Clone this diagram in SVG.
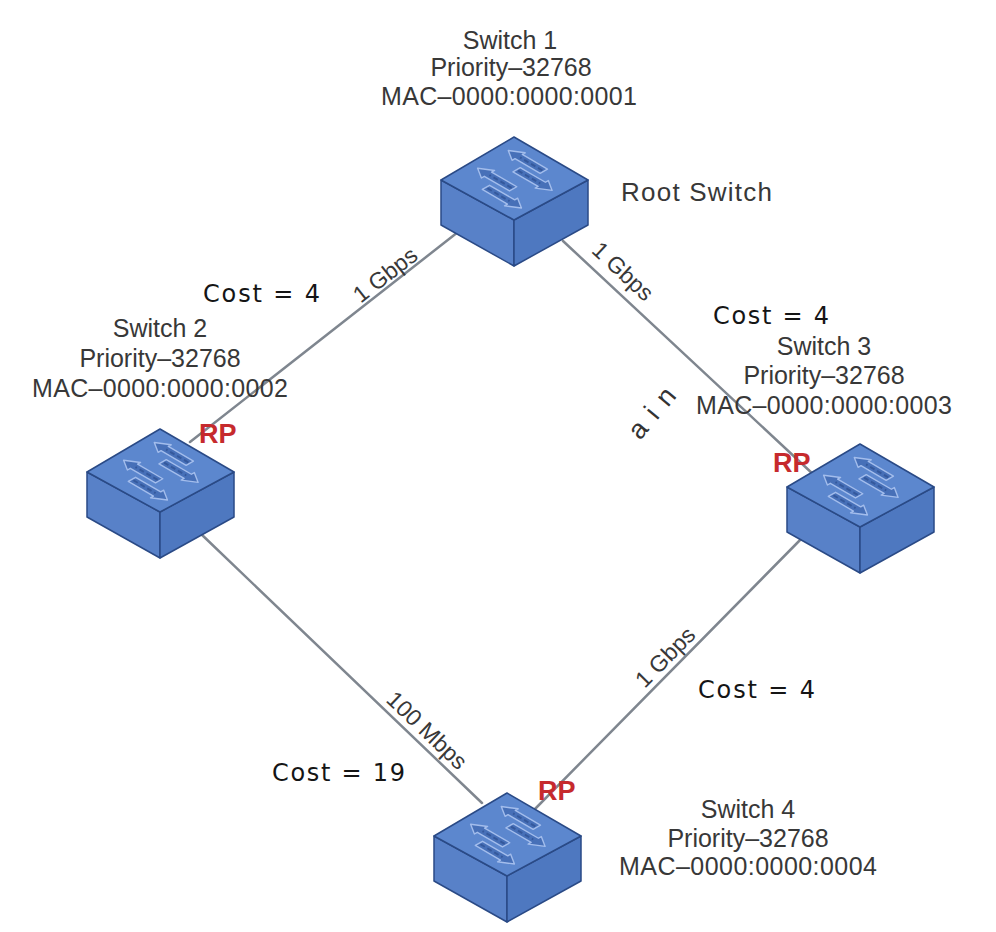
<svg xmlns="http://www.w3.org/2000/svg" width="996" height="932" viewBox="0 0 996 932">
<style>
.lbl{font-family:"Liberation Sans",Arial,sans-serif;font-size:25px;fill:#383838;text-anchor:middle}
.lnk{font-family:"Liberation Sans",Arial,sans-serif;font-size:23px;fill:#383838;text-anchor:middle}
.cost{font-family:"DejaVu Sans",sans-serif;font-size:24px;fill:#151515}
.rp{font-family:"Liberation Sans",Arial,sans-serif;font-size:27px;font-weight:bold;fill:#c62a2d}
.wire{stroke:#7f868f;stroke-width:2.5;fill:none;stroke-linecap:round}
.face{stroke:#2a4a86;stroke-width:1.5;stroke-linejoin:round}
.arr{fill:#4770b8;stroke:#a3bdec;stroke-width:1.4;vector-effect:non-scaling-stroke;stroke-linejoin:round}
.dash{stroke:#35599c;stroke-width:2;stroke-dasharray:5 3;vector-effect:non-scaling-stroke}
</style>
<defs>
<g id="sw">
<polygon class="face" fill="#5881c8" points="-73,43 0,83 0,129 -73,88"/>
<polygon class="face" fill="#4e78c0" points="0,83 74,43 74,88 0,129"/>
<polygon class="face" fill="#5c87ce" points="0,0 74,43 0,83 -73,43"/>
<g transform="matrix(0.74,0.43,-0.73,0.42,0,0)">
<polygon class="arr" points="60,15 26,15 26,11 12,20 26,29 26,25 60,25"/>
<polygon class="arr" points="40,32 74,32 74,28 88,37 74,46 74,42 40,42"/>
<polygon class="arr" points="60,57 26,57 26,53 12,62 26,71 26,67 60,67"/>
<polygon class="arr" points="40,74 74,74 74,70 88,79 74,88 74,84 40,84"/>
<line class="dash" x1="58" y1="20" x2="28" y2="20"/>
<line class="dash" x1="42" y1="37" x2="72" y2="37"/>
<line class="dash" x1="58" y1="62" x2="28" y2="62"/>
<line class="dash" x1="42" y1="79" x2="72" y2="79"/>
</g>
</g>
</defs>
<rect width="996" height="932" fill="#ffffff"/>
<g id="connectors">
<line class="wire" x1="458" y1="232" x2="190" y2="442"/>
<line class="wire" x1="563" y1="241" x2="814" y2="475"/>
<line class="wire" x1="200" y1="533" x2="482" y2="803"/>
<line class="wire" x1="533" y1="811" x2="805" y2="535"/>
</g>
<g id="link-labels">
<text class="lnk" transform="translate(390,281) rotate(-38)">1 Gbps</text>
<text class="lnk" transform="translate(617.5,277) rotate(43)">1 Gbps</text>
<text class="lnk" transform="translate(421.5,736) rotate(43.7)">100 Mbps</text>
<text class="lnk" transform="translate(670.7,662.6) rotate(-45.4)">1 Gbps</text>
<text class="cost" x="203" y="302" textLength="117">Cost = 4</text>
<text class="cost" x="713" y="324" textLength="116">Cost = 4</text>
<text class="cost" x="698" y="698" textLength="117">Cost = 4</text>
<text class="cost" x="272" y="781" textLength="133">Cost = 19</text>
<text font-family="Liberation Sans, Arial, sans-serif" font-size="27" fill="#333" letter-spacing="11" transform="translate(640,441) rotate(-50)">ain</text>
</g>
<g id="switch1">
<use href="#sw" transform="translate(514,137)"/>
<text class="lbl" x="510" y="49">Switch 1</text>
<text class="lbl" x="511" y="76">Priority–32768</text>
<text class="lbl" x="509" y="105" textLength="256">MAC–0000:0000:0001</text>
<text class="lbl" x="621" y="201" style="text-anchor:start;font-size:26px" textLength="151">Root Switch</text>
</g>
<g id="switch2">
<use href="#sw" transform="translate(160,429)"/>
<text class="lbl" x="160" y="337">Switch 2</text>
<text class="lbl" x="160" y="367">Priority–32768</text>
<text class="lbl" x="160" y="397" textLength="256">MAC–0000:0000:0002</text>
<text class="rp" x="199" y="443">RP</text>
</g>
<g id="switch3">
<use href="#sw" transform="translate(860,444)"/>
<text class="lbl" x="824" y="355">Switch 3</text>
<text class="lbl" x="824" y="384">Priority–32768</text>
<text class="lbl" x="824" y="414" textLength="256">MAC–0000:0000:0003</text>
<text class="rp" x="773" y="472">RP</text>
</g>
<g id="switch4">
<use href="#sw" transform="translate(507,793)"/>
<text class="lbl" x="748" y="818">Switch 4</text>
<text class="lbl" x="748" y="847">Priority–32768</text>
<text class="lbl" x="748" y="875" textLength="258">MAC–0000:0000:0004</text>
<text class="rp" x="538" y="800">RP</text>
</g>
</svg>
